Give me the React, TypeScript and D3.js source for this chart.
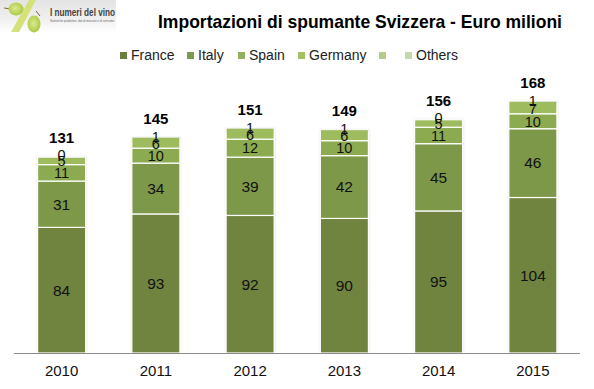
import React from "react";
import * as d3 from "d3";

const years = ["2010", "2011", "2012", "2013", "2014", "2015"];
const seriesNames = ["France", "Italy", "Spain", "Germany", "", "Others"];
const france = [84, 93, 92, 90, 95, 104];
const italy = [31, 34, 39, 42, 45, 46];
const spain = [11, 10, 12, 10, 11, 10];
const germany = [5, 6, 6, 6, 5, 7];
const unnamed = [0, 1, 1, 1, 0, 1];
const others = [0, 0, 0, 0, 0, 0];
const totals = [131, 145, 151, 149, 156, 168];
const barColors = ["#70843f", "#7e984a", "#8cab50", "#9ebc5e", "#9ebc5e", "#c5d8ad"];
const legendColors = ["#6a7f3f", "#7c9a4c", "#93b05c", "#a4c160", "#b4cc8a", "#c5d8ad"];
const legendX = [120, 187, 238, 298, 379, 405];

const W = 594, H = 389;
const FONT = "'Liberation Sans', Arial, sans-serif";

export default function App() {
  const x = d3.scaleBand().domain(years).range([14.5, 580]).paddingInner(0.49).paddingOuter(0.245);
  const y = d3.scaleLinear().domain([0, 168]).range([353, 101.8]);
  const rows = years.map((yr, i) => ({
    year: yr, France: france[i], Italy: italy[i], Spain: spain[i], Germany: germany[i], "": unnamed[i], Others: others[i],
  }));
  const stacked = d3.stack<any>().keys(seriesNames)(rows);
  const tops = stacked[5].map((d) => y(d[1]));
  return (
    <svg width={W} height={H} style={{ position: "fixed", left: 0, top: 0, background: "#fff" }}>
      <defs>
        <linearGradient id="logoBg" x1="0" y1="0" x2="0" y2="1">
          <stop offset="0" stopColor="#e4e4e4" />
          <stop offset="0.55" stopColor="#efefef" />
          <stop offset="1" stopColor="#ffffff" />
        </linearGradient>
        <radialGradient id="grape" cx="0.45" cy="0.45" r="0.65">
          <stop offset="0" stopColor="#dbe98a" />
          <stop offset="1" stopColor="#a3c43c" />
        </radialGradient>
        <filter id="glow" x="-20%" y="-20%" width="140%" height="140%">
          <feGaussianBlur stdDeviation="1" />
        </filter>
      </defs>

      {/* logo */}
      <rect x={0} y={0} width={116} height={33} fill="url(#logoBg)" />
      <polygon points="29,0 36,0 19,32 11,32" fill="#d5e27a" />
      <line x1={4} y1={8} x2={11} y2={9} stroke="#8a6a3a" strokeWidth={1} />
      <ellipse cx={16} cy={9} rx={7.5} ry={6.5} fill="url(#grape)" />
      <line x1={36} y1={11} x2={40} y2={16} stroke="#7a5a30" strokeWidth={1} />
      <ellipse cx={34} cy={24} rx={6.5} ry={8.5} fill="url(#grape)" />
      <text x={50} y={16} fontFamily={FONT} fontSize={10.5} fontWeight={700} fill="#444" textLength={65} lengthAdjust="spacingAndGlyphs">I numeri del vino</text>
      <text x={50} y={22} fontFamily={FONT} fontSize={2.8} fill="#666" textLength={65} lengthAdjust="spacingAndGlyphs">Statistiche produttive, dati di mercato e di consumo.</text>

      {/* title */}
      <text x={360} y={28} textAnchor="middle" fontFamily={FONT} fontWeight={700} fontSize={19} fill="#000" textLength={404} lengthAdjust="spacingAndGlyphs">
        Importazioni di spumante Svizzera - Euro milioni
      </text>

      {/* legend */}
      {seriesNames.map((name, i) => (
        <g key={i}>
          <rect x={legendX[i]} y={52} width={7} height={7} fill={legendColors[i]} />
          <text x={legendX[i] + 11} y={60} fontFamily={FONT} fontSize={14} fill="#222">{name}</text>
        </g>
      ))}

      {/* bar shadows */}
      {years.map((yr, i) => (
        <rect key={yr} x={x(yr)! - 0.5} y={tops[i] - 0.5} width={x.bandwidth() + 1.5} height={353 - tops[i] + 0.5} fill="#c4c4c4" opacity={0.4} filter="url(#glow)" />
      ))}

      {/* stacked bars */}
      {stacked.map((layer, s) => (
        <g key={s}>
          {layer.map((d, i) => (
            d[1] > d[0] ? (
              s === 4 ? (
                <rect key={i} x={x(years[i])! + 0.6} y={y(d[1])} width={x.bandwidth() - 1.2} height={y(d[0]) - y(d[1]) + 1.5} fill={barColors[s]} />
              ) : (
                <rect key={i} x={x(years[i])} y={y(d[1])} width={x.bandwidth()} height={y(d[0]) - y(d[1])} fill={barColors[s]} stroke="#fff" strokeWidth={1.2} />
              )
            ) : null
          ))}
        </g>
      ))}

      {/* axis */}
      <line x1={14} x2={580} y1={353.5} y2={353.5} stroke="#8c8c8c" strokeWidth={1} />
      {years.map((yr) => (
        <text key={yr} x={x(yr)! + x.bandwidth() / 2} y={376} textAnchor="middle" fontFamily={FONT} fontSize={15} fill="#111">{yr}</text>
      ))}

      {/* segment labels */}
      {stacked.map((layer, s) => (
        s === 5 ? null :
        <g key={s}>
          {layer.map((d, i) => {
            const cy = (y(d[0]) + y(d[1])) / 2 + (s === 4 ? -2 : 0);
            return (
              <text key={i} x={x(years[i])! + x.bandwidth() / 2} y={cy + 5.3} textAnchor="middle" fontFamily={FONT} fontSize={s < 2 ? 15.5 : 14.5} fill="#111">
                {d[1] - d[0]}
              </text>
            );
          })}
        </g>
      ))}

      {/* totals */}
      {years.map((yr, i) => (
        <text key={yr} x={x(yr)! + x.bandwidth() / 2} y={tops[i] - 14} textAnchor="middle" fontFamily={FONT} fontWeight={700} fontSize={15} fill="#000">{totals[i]}</text>
      ))}
    </svg>
  );
}
